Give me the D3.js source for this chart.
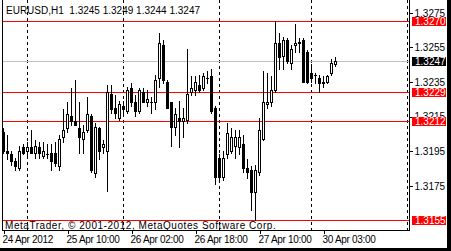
<!DOCTYPE html>
<html lang="en">
<head>
  <meta charset="UTF-8">
  <title>EURUSD,H1</title>
  <style>
    body { margin: 0; background: #fff; }
    text { font-family: "Liberation Sans", Arial, sans-serif; font-size: 10px; }
    line, rect, path { shape-rendering: crispEdges; }
  </style>
</head>
<body>
  <svg></svg>
  <script src="https://cdn.jsdelivr.net/npm/d3@7"></script>
  <script>
    var width = 451
    var height = 251

    // hourly bars, 24 Apr 18:00 .. 30 Apr 06:00
    var opens = [1.3206,1.3195,1.3193,1.3189,1.3185,1.3197,1.3195,1.3197,1.3194,1.3197,
                 1.3192,1.3193,1.3194,1.3194,1.3186,1.3203,1.3208,1.3215,1.3212,1.3208,
                 1.3202,1.3207,1.3215,1.3182,1.3208,1.3197,1.3195,1.3228,1.3220,1.3214,
                 1.3221,1.3218,1.3231,1.3223,1.3218,1.3229,1.3223,1.3223,1.3223,1.3237,
                 1.3256,1.3235,1.3223,1.3209,1.3214,1.3212,1.3213,1.3229,1.3230,1.3233,
                 1.3231,1.3237,1.3238,1.3220,1.3191,1.3180,1.3193,1.3195,1.3198,1.3197,
                 1.3199,1.3185,1.3184,1.3171,1.3183,1.3202,1.3222,1.3223,1.3230,1.3257,
                 1.3250,1.3259,1.3246,1.3256,1.3258,1.3259,1.3252,1.3240,1.3239,1.3237,
                 1.3234,1.3235,1.3240,1.3245]
    var highs = [1.3208,1.3204,1.3195,1.3191,1.3198,1.3199,1.3200,1.3207,1.3201,1.3200,
                 1.3200,1.3199,1.3199,1.3200,1.3204,1.3219,1.3223,1.3231,1.3236,1.3223,
                 1.3210,1.3226,1.3216,1.3211,1.3209,1.3201,1.3233,1.3233,1.3227,1.3224,
                 1.3224,1.3232,1.3234,1.3227,1.3231,1.3231,1.3230,1.3226,1.3239,1.3263,
                 1.3259,1.3236,1.3223,1.3220,1.3224,1.3220,1.3254,1.3238,1.3238,1.3239,
                 1.3240,1.3241,1.3242,1.3221,1.3193,1.3195,1.3211,1.3208,1.3207,1.3207,
                 1.3204,1.3190,1.3186,1.3187,1.3214,1.3241,1.3240,1.3238,1.3270,1.3263,
                 1.3261,1.3260,1.3256,1.3268,1.3260,1.3260,1.3253,1.3245,1.3240,1.3239,
                 1.3238,1.3239,1.3248,1.3249]
    var lows  = [1.3194,1.3190,1.3187,1.3184,1.3184,1.3193,1.3191,1.3194,1.3191,1.3191,
                 1.3191,1.3191,1.3184,1.3186,1.3184,1.3200,1.3206,1.3210,1.3210,1.3194,
                 1.3194,1.3206,1.3183,1.3180,1.3190,1.3194,1.3172,1.3217,1.3214,1.3213,
                 1.3217,1.3217,1.3221,1.3215,1.3217,1.3223,1.3221,1.3217,1.3219,1.3232,
                 1.3234,1.3220,1.3198,1.3204,1.3197,1.3203,1.3211,1.3227,1.3227,1.3229,
                 1.3230,1.3234,1.3217,1.3176,1.3178,1.3178,1.3191,1.3194,1.3191,1.3193,
                 1.3183,1.3179,1.3161,1.3155,1.3181,1.3201,1.3220,1.3221,1.3229,1.3242,
                 1.3242,1.3246,1.3242,1.3252,1.3252,1.3235,1.3234,1.3235,1.3234,1.3229,
                 1.3232,1.3234,1.3239,1.3244]
    var closes = [1.3195,1.3194,1.3189,1.3186,1.3195,1.3194,1.3197,1.3194,1.3198,1.3194,
                 1.3195,1.3193,1.3189,1.3188,1.3202,1.3207,1.3216,1.3212,1.3210,1.3203,
                 1.3206,1.3216,1.3184,1.3209,1.3195,1.3199,1.3229,1.3219,1.3217,1.3222,
                 1.3219,1.3230,1.3223,1.3218,1.3230,1.3223,1.3225,1.3223,1.3236,1.3257,
                 1.3236,1.3220,1.3209,1.3216,1.3212,1.3214,1.3228,1.3231,1.3235,1.3230,
                 1.3238,1.3237,1.3218,1.3180,1.3180,1.3191,1.3205,1.3203,1.3203,1.3203,
                 1.3185,1.3183,1.3171,1.3184,1.3207,1.3223,1.3223,1.3230,1.3257,1.3249,
                 1.3259,1.3247,1.3254,1.3257,1.3257,1.3235,1.3235,1.3237,1.3239,1.3234,
                 1.3235,1.3238,1.3246,1.3247]

    var timeTicks = [0, 16, 32, 48, 64, 80]
    var timeLabels = ["24 Apr 2012", "25 Apr 10:00", "26 Apr 02:00", "26 Apr 18:00", "27 Apr 10:00", "30 Apr 03:00"]
    var daySeparators = [6, 30, 54, 77, 101]
    var priceTicks = [1.3275, 1.3255, 1.3235, 1.3215, 1.3195, 1.3175]
    var levelLines = [1.3270, 1.3229, 1.3212, 1.3155]
    var bid = 1.3247

    var bars = opens.map((o, i) => ({i: i, o: o, h: highs[i], l: lows[i], c: closes[i]}))

    var left = 2, right = 409, bottom = 230

    var x = d3.scaleLinear().domain([0, 101]).range([3, 407])
    var y = d3.scaleLinear().domain([1.3155, 1.3270]).range([220, 21])
    var py = v => Math.round(y(v))

    var svg = d3.select("svg")
              .attr("width", width)
              .attr("height", height)

    svg.append("rect").attr("width", width).attr("height", height).attr("fill", "#fff")

    // day separators
    svg.selectAll("line.sep")
       .data(daySeparators)
       .join("line")
       .attr("class", "sep")
       .attr("x1", d => Math.round(x(d)) + 0.5)
       .attr("x2", d => Math.round(x(d)) + 0.5)
       .attr("y1", 0)
       .attr("y2", bottom)
       .attr("stroke", "#000")
       .attr("stroke-dasharray", "3,3")

    // bid line
    svg.append("rect")
       .attr("x", left + 1).attr("width", right - left - 1)
       .attr("y", py(bid)).attr("height", 1)
       .attr("fill", "#c0c0c0")

    // horizontal levels
    svg.selectAll("rect.lvl")
       .data(levelLines)
       .join("rect")
       .attr("class", "lvl")
       .attr("x", left + 1).attr("width", right - left - 1)
       .attr("y", d => py(d))
       .attr("height", 1)
       .attr("fill", "#ff0000")

    // candles
    var g = svg.append("g")
    g.selectAll("rect.wick")
     .data(bars)
     .join("rect")
     .attr("class", "wick")
     .attr("x", d => Math.round(x(d.i)))
     .attr("width", 1)
     .attr("y", d => py(d.h))
     .attr("height", d => py(d.l) - py(d.h) + 1)
     .attr("fill", "#000")

    g.selectAll("rect.body")
     .data(bars)
     .join("rect")
     .attr("class", "body")
     .attr("x", d => Math.round(x(d.i)) - 1)
     .attr("width", 3)
     .attr("y", d => py(Math.max(d.o, d.c)))
     .attr("height", d => Math.max(1, py(Math.min(d.o, d.c)) - py(Math.max(d.o, d.c)) + 1))
     .attr("fill", "#000")

    g.selectAll("rect.hollow")
     .data(bars.filter(d => d.c > d.o))
     .join("rect")
     .attr("class", "hollow")
     .attr("x", d => Math.round(x(d.i)))
     .attr("width", 1)
     .attr("y", d => py(d.c) + 1)
     .attr("height", d => Math.max(0, py(d.o) - py(d.c) - 1))
     .attr("fill", "#fff")

    // frame
    svg.append("path")
       .attr("d", `M${left + 0.5},0V${bottom + 0.5}H${right + 0.5}V0`)
       .attr("fill", "none")
       .attr("stroke", "#000")

    // time axis
    var xAxis = svg.append("g")
        .attr("transform", `translate(0.5, ${bottom + 0.5})`)
        .call(d3.axisBottom(x).tickValues(timeTicks).tickSize(3).tickSizeOuter(0)
              .tickFormat((d, k) => timeLabels[k]))
    xAxis.select(".domain").remove()
    xAxis.selectAll("line").attr("stroke", "#000")
    xAxis.selectAll("text")
         .attr("text-anchor", "start")
         .attr("x", -1.5)
         .attr("y", 5)
         .attr("dy", "0.71em")
         .attr("fill", "#000")
         .attr("font-size", 10)
         .attr("font-family", "Liberation Sans, Arial, sans-serif")
         .style("letter-spacing", "-0.3px")

    // price axis
    var yAxis = svg.append("g")
        .attr("transform", `translate(${right + 0.5}, 0.5)`)
        .call(d3.axisRight(y).tickValues(priceTicks).tickSize(3).tickSizeOuter(0)
              .tickFormat(d3.format(".4f")))
    yAxis.select(".domain").remove()
    yAxis.selectAll("line").attr("stroke", "#000")
    yAxis.selectAll("text")
         .attr("x", 5)
         .attr("fill", "#000")
         .attr("font-size", 10)
         .attr("font-family", "Liberation Sans, Arial, sans-serif")

    // price labels for levels and bid
    var tags = levelLines.map(v => ({v: v, bg: "#ff0000"})).concat([{v: bid, bg: "#000"}])
    var tag = svg.selectAll("g.tag")
       .data(tags)
       .join("g")
       .attr("class", "tag")
       .attr("transform", d => `translate(412, ${py(d.v)})`)
    tag.append("rect")
       .attr("x", 0).attr("y", -4).attr("width", 34).attr("height", 9)
       .attr("fill", d => d.bg)
    tag.append("text")
       .attr("x", 3).attr("y", 4)
       .attr("fill", "#fff")
       .text(d => d3.format(".4f")(d.v))

    // header and copyright
    svg.append("text")
       .attr("x", 6).attr("y", 14)
       .attr("fill", "#000")
       .attr("xml:space", "preserve")
       .text("EURUSD,H1  " + [opens[83], highs[83], lows[83], closes[83]].map(d3.format(".4f")).join(" "))

    svg.append("text")
       .attr("x", 5).attr("y", 228.5)
       .attr("fill", "#000")
       .attr("font-size", 11)
       .style("letter-spacing", "0.55px")
       .text("MetaTrader, \u00a9 2001-2012, MetaQuotes Software Corp.")

    // window edge
    svg.append("rect").attr("x", 447).attr("y", 0).attr("width", 4).attr("height", height).attr("fill", "#000")
    svg.append("rect").attr("x", 0).attr("y", 248).attr("width", width).attr("height", 3).attr("fill", "#000")
  </script>
</body>
</html>
